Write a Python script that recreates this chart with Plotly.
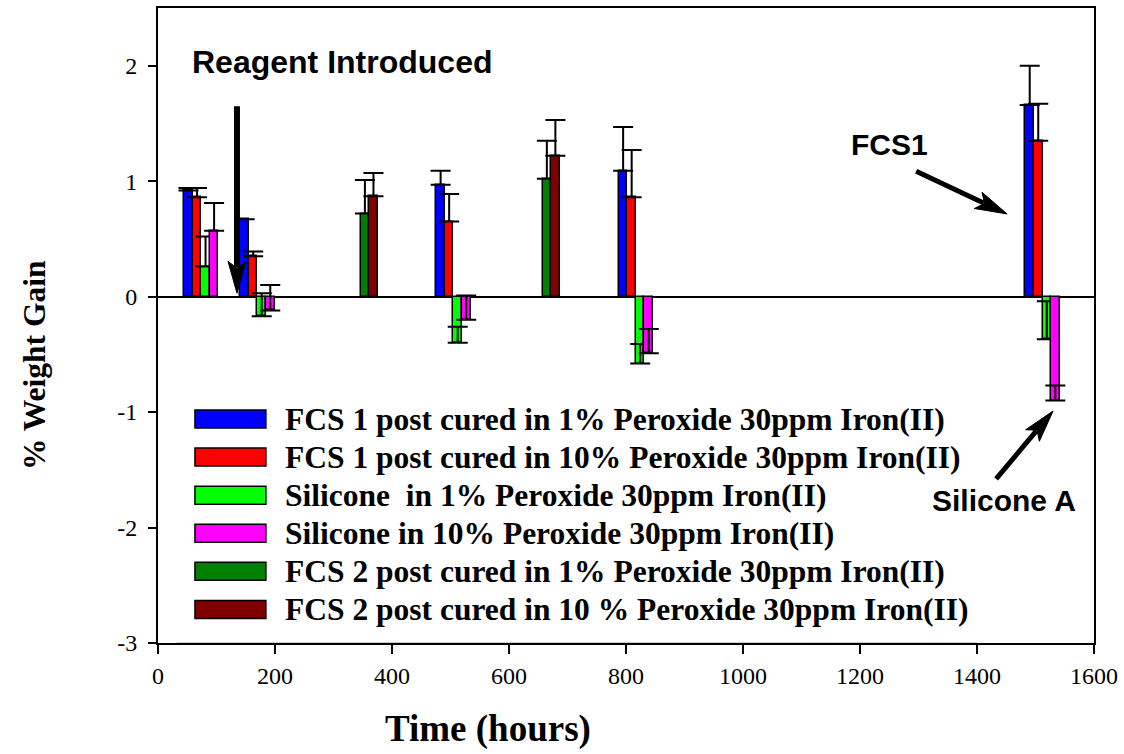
import plotly.graph_objects as go

# ---- data: % weight gain vs exposure time (hours) ----
# FCS 1 and Silicone samples were weighed at these times
times_a = [74, 170, 505, 817, 1512]
# FCS 2 samples were weighed at these times
times_b = [361, 672]

fcs1_1pct = [0.92, 0.67, 0.97, 1.09, 1.66]
fcs1_1pct_err = [0.02, None, 0.12, 0.38, 0.34]
fcs1_10pct = [0.86, 0.35, 0.65, 0.86, 1.35]
fcs1_10pct_err = [0.08, 0.04, 0.24, 0.41, 0.32]
sil_1pct = [0.26, -0.17, -0.40, -0.58, -0.37]
sil_1pct_err = [0.26, 0.20, 0.14, 0.17, 0.33]
sil_10pct = [0.57, -0.12, -0.20, -0.49, -0.90]
sil_10pct_err = [0.24, 0.22, 0.21, 0.21, 0.13]
fcs2_1pct = [0.72, 1.02]
fcs2_1pct_err = [0.29, 0.33]
fcs2_10pct = [0.87, 1.22]
fcs2_10pct_err = [0.20, 0.31]

series_names = [
    "FCS 1 post cured in 1% Peroxide 30ppm Iron(II)",
    "FCS 1 post cured in 10% Peroxide 30ppm Iron(II)",
    "Silicone\u00a0 in 1% Peroxide 30ppm Iron(II)",
    "Silicone in 10% Peroxide 30ppm Iron(II)",
    "FCS 2 post cured in 1% Peroxide 30ppm Iron(II)",
    "FCS 2 post cured in 10 % Peroxide 30ppm Iron(II)",
]
x_ticks = [0, 200, 400, 600, 800, 1000, 1200, 1400, 1600]
y_ticks = [-3, -2, -1, 0, 1, 2]

# ---- styling / geometry ----
COLORS = ["#0000ff", "#ff0000", "#00ff00", "#ff00ff", "#008000", "#800000"]
BAR_W = 14.6  # bar width in hours
W, H = 1124, 754
MARGIN = dict(l=158, r=29, t=6, b=111)
X_RANGE = [0, 1600]
Y_RANGE = [-3, 2.5]
PLOT_W = W - MARGIN["l"] - MARGIN["r"]
PLOT_H = H - MARGIN["t"] - MARGIN["b"]
SERIF = "Liberation Serif, Times New Roman, serif"
SANS = "Liberation Sans, Arial, sans-serif"


def data_to_px(x, y):
    px = MARGIN["l"] + (x - X_RANGE[0]) / (X_RANGE[1] - X_RANGE[0]) * PLOT_W
    py = MARGIN["t"] + (Y_RANGE[1] - y) / (Y_RANGE[1] - Y_RANGE[0]) * PLOT_H
    return px, py


def px_to_paper(px, py):
    return (px - MARGIN["l"]) / PLOT_W, (H - MARGIN["b"] - py) / PLOT_H


fig = go.Figure()

# (times, values, errors, slot within the cluster in bar widths from its centre)
series = [
    (times_a, fcs1_1pct, fcs1_1pct_err, -1.5),
    (times_a, fcs1_10pct, fcs1_10pct_err, -0.5),
    (times_a, sil_1pct, sil_1pct_err, 0.5),
    (times_a, sil_10pct, sil_10pct_err, 1.5),
    (times_b, fcs2_1pct, fcs2_1pct_err, -0.5),
    (times_b, fcs2_10pct, fcs2_10pct_err, 0.5),
]

for (ts, ys, errs, slot), name, color in zip(series, series_names, COLORS):
    xs = [t + slot * BAR_W for t in ts]
    fig.add_trace(go.Bar(
        x=xs, y=ys, name=name,
        width=BAR_W,
        marker=dict(color=color, line=dict(color="black", width=1.5)),
        error_y=dict(type="data", symmetric=False, array=errs,
                     arrayminus=[0] * len(errs), color="black",
                     thickness=2, width=10),
        showlegend=False,
    ))

shapes = []
annotations = []

# x axis segment hidden behind the legend box edge
shapes.append(dict(type="line", xref="x", yref="y", x0=32, x1=1400,
                   y0=Y_RANGE[0], y1=Y_RANGE[0],
                   line=dict(color="#cccccc", width=2), layer="above"))


def add_arrow(tail, tip, shaft_w, head_len=30, head_half=9):
    tx, ty = data_to_px(*tail)
    hx, hy = data_to_px(*tip)
    dx, dy = hx - tx, hy - ty
    length = (dx * dx + dy * dy) ** 0.5
    ux, uy = dx / length, dy / length
    nx, ny = -uy, ux
    bx, by = hx - ux * head_len, hy - uy * head_len
    # shaft stops a little inside the head
    sx, sy = bx + ux * 4, by + uy * 4
    p0 = px_to_paper(tx, ty)
    p1 = px_to_paper(sx, sy)
    shapes.append(dict(type="line", xref="paper", yref="paper",
                       x0=p0[0], y0=p0[1], x1=p1[0], y1=p1[1],
                       line=dict(color="black", width=shaft_w), layer="above"))
    pts = [
        (hx, hy),
        (bx + nx * head_half - ux * 2, by + ny * head_half - uy * 2),
        (bx + ux * 5, by + uy * 5),
        (bx - nx * head_half - ux * 2, by - ny * head_half - uy * 2),
    ]
    pp = [px_to_paper(*p) for p in pts]
    path = "M " + " L ".join(f"{a:.5f},{b:.5f}" for a, b in pp) + " Z"
    shapes.append(dict(type="path", xref="paper", yref="paper", path=path,
                       fillcolor="black", line=dict(color="black", width=1),
                       layer="above"))


add_arrow((135, 1.65), (135, 0.03), 6)
add_arrow((1296, 1.086), (1451.5, 0.716), 5)
add_arrow((1432.7, -1.578), (1530, -0.991), 5)

label_font = dict(family=SANS, size=30, color="black", weight="bold")
annotations.append(dict(x=314, y=2.03, xref="x", yref="y", text="Reagent Introduced",
                        showarrow=False, xanchor="center", yanchor="middle",
                        font=dict(label_font, size=32)))
annotations.append(dict(x=1250, y=1.32, xref="x", yref="y", text="FCS1",
                        showarrow=False, xanchor="center", yanchor="middle", font=label_font))
annotations.append(dict(x=1445.5, y=-1.765, xref="x", yref="y", text="Silicone A",
                        showarrow=False, xanchor="center", yanchor="middle", font=label_font))

# legend: wide swatches with bold serif labels
LEG_SW_X0, LEG_SW_X1 = 195, 266
LEG_TEXT_X = 283
LEG_ROW0, LEG_STEP, LEG_SW_H = 418.3, 38.2, 18
for i, (name, color) in enumerate(zip(series_names, COLORS)):
    cy = LEG_ROW0 + i * LEG_STEP
    a = px_to_paper(LEG_SW_X0, cy - LEG_SW_H / 2)
    b = px_to_paper(LEG_SW_X1, cy + LEG_SW_H / 2)
    shapes.append(dict(type="rect", xref="paper", yref="paper",
                       x0=a[0], y0=b[1], x1=b[0], y1=a[1],
                       fillcolor=color, line=dict(color="black", width=1.5),
                       layer="above"))
    t = px_to_paper(LEG_TEXT_X, cy)
    annotations.append(dict(x=t[0], y=t[1], xref="paper", yref="paper", text=name,
                            showarrow=False, xanchor="left", yanchor="middle",
                            font=dict(family=SERIF, size=31.5, color="black", weight="bold")))

# axis titles
xt = px_to_paper(488, 729)
annotations.append(dict(x=xt[0], y=xt[1], xref="paper", yref="paper", text="Time (hours)",
                        showarrow=False, xanchor="center", yanchor="middle",
                        font=dict(family=SERIF, size=37, color="black", weight="bold")))
yt = px_to_paper(35, 364)
annotations.append(dict(x=yt[0], y=yt[1], xref="paper", yref="paper", text="% Weight Gain",
                        showarrow=False, xanchor="center", yanchor="middle", textangle=-90,
                        font=dict(family=SERIF, size=31.5, color="black", weight="bold")))

fig.update_layout(
    width=W, height=H,
    margin=MARGIN,
    paper_bgcolor="white", plot_bgcolor="white",
    barmode="overlay",
    bargap=0,
    shapes=shapes,
    annotations=annotations,
    font=dict(family=SERIF, color="black"),
    xaxis=dict(
        range=X_RANGE, tickvals=x_ticks, ticktext=[str(v) for v in x_ticks],
        showgrid=False, zeroline=False,
        showline=True, linecolor="black", linewidth=2, mirror=True,
        ticks="outside", ticklen=9, tickwidth=2, tickcolor="black",
        tickfont=dict(family=SERIF, size=24, color="black"),
        ticklabelstandoff=1,
    ),
    yaxis=dict(
        range=Y_RANGE, tickvals=y_ticks, ticktext=[str(v) for v in y_ticks],
        showgrid=False,
        zeroline=True, zerolinecolor="black", zerolinewidth=2,
        showline=True, linecolor="black", linewidth=2, mirror=True,
        ticks="outside", ticklen=8, tickwidth=2, tickcolor="black",
        tickfont=dict(family=SERIF, size=24, color="black"),
        ticklabelstandoff=6,
    ),
)

fig.write_html("out.html")
